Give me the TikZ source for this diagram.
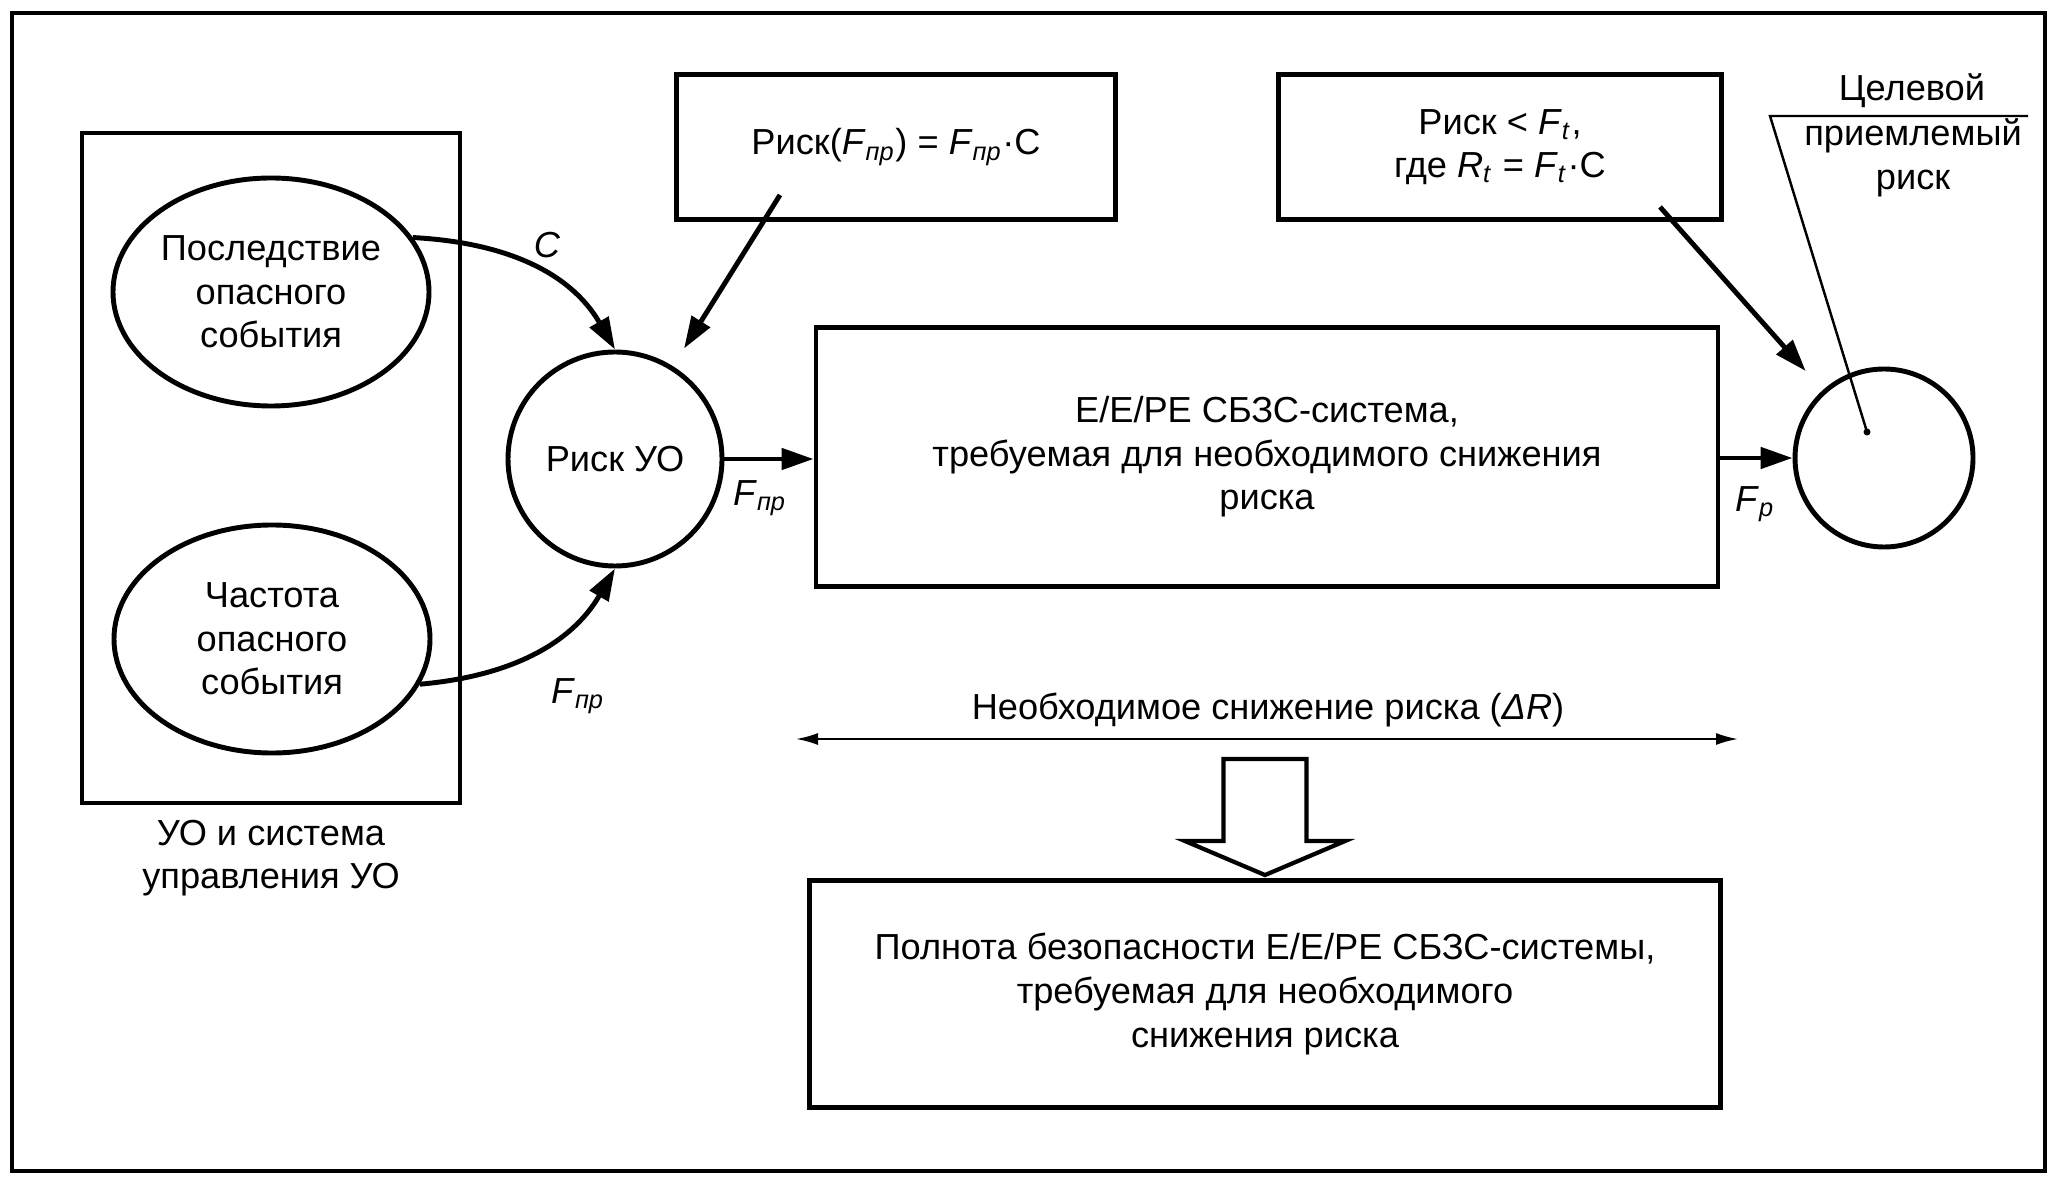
\documentclass[tikz,border=0pt]{standalone}
\usepackage{fontspec}
\setmainfont{Liberation Sans}
\usepackage{tikz}
\usetikzlibrary{shapes.geometric,positioning,arrows.meta,calc}

\newcommand{\Fsub}[1]{\textit{F}\textsubscript{\textit{#1}}}

\begin{document}
\begin{tikzpicture}[line width=1.4pt]
    \fontsize{10.3}{12.4}\selectfont

    % Shapes
    \tikzstyle{box}=[rectangle, draw, align=center, inner sep=0pt]
    \tikzstyle{event}=[ellipse, draw, align=center, minimum width=3.16cm, minimum height=2.28cm, inner sep=0pt]
    \tikzstyle{risk}=[circle, draw, inner sep=0pt]
    \tikzstyle{flow}=[-{Triangle[length=0.32cm,width=0.21cm]}]
    \tikzstyle{lbl}=[inner sep=1pt]

    % Frame
    \useasboundingbox (0,0) rectangle (20.56,11.86);
    \draw (0.12,0.15) rectangle (20.45,11.73);

    % Plant and control system
    \node[box, minimum width=3.78cm, minimum height=6.70cm, label={[align=center]below:УО и система\\управления УО}] at (2.71,7.18) (plantBox) {};
    \node[event] at (2.71,8.94) (conseq) {Последствие\\опасного\\события};
    \node[event] at (2.72,5.47) (freq) {Частота\\опасного\\события};

    % Risk
    \node[risk, minimum size=2.14cm] at (6.15,7.27) (riskUO) {Риск УО};
    \node[box, minimum width=4.39cm, minimum height=1.45cm] at (8.96,10.39) (riskFormula) {Риск(\Fsub{пр}) = \Fsub{пр}·C};
    \node[box, minimum width=4.43cm, minimum height=1.45cm] at (15.00,10.39) (tolFormula) {Риск < \Fsub{t},\\где \textit{R}\textsubscript{\textit{t}} = \Fsub{t}·C};

    % Systems
    \node[box, minimum width=9.02cm, minimum height=2.59cm] at (12.67,7.29) (sisBox) {E/E/PE СБЗС-система,\\требуемая для необходимого снижения\\риска};
    \node[risk, minimum size=1.78cm] at (18.84,7.28) (tolRisk) {};
    \node[box, minimum width=9.11cm, minimum height=2.27cm] at (12.65,1.92) (silBox) {Полнота безопасности E/E/PE СБЗС-системы,\\требуемая для необходимого\\снижения риска};

    % Arrows
    \draw[flow] (conseq.21) to[out=-3,in=120] (riskUO.north);
    \draw[flow] (freq.-17) to[out=5,in=-120] (riskUO.south);
    \draw[flow] (riskUO.east) -- (riskUO.east -| sisBox.west);
    \draw[flow] (sisBox.east |- tolRisk.west) -- (tolRisk.west);
    \draw[flow] ($(riskFormula.south)+(-1.16,0.27)$) -- ($(riskUO.center)!1.19!(riskUO.58)$);
    \draw[flow] ($(tolFormula.south)+(1.60,0.15)$) -- ($(tolRisk.center)!1.28!(tolRisk.132)$);

    % Labels
    \node[lbl] at (5.47,9.41) (labC) {\textit{C}};
    \node[lbl] at (5.78,4.90) (labFreq) {\Fsub{пр}};
    \node[lbl] at (7.60,6.88) (labRisk) {\Fsub{пр}};
    \node[lbl] at (17.55,6.82) (labRes) {\Fsub{p}};

    % Target risk
    \node at (19.12,10.95) (tolTitle) {Целевой};
    \node[align=center] at (19.13,10.28) (tolText) {приемлемый\\риск};
    \coordinate (tolLineEnd) at (20.28,10.70);
    \coordinate (tolCorner) at (17.70,10.70);
    \coordinate (tolDot) at (18.67,7.54);
    \draw[line width=0.7pt] (tolLineEnd) -- (tolCorner) -- (tolDot);
    \fill (tolDot) circle (0.035);

    % Risk reduction
    \coordinate (redLeft) at (7.96,4.47);
    \coordinate (redRight) at (17.38,4.47);
    \draw[{Latex[length=0.22cm,width=0.12cm]}-{Latex[length=0.22cm,width=0.12cm]}, line width=0.6pt] (redLeft) -- (redRight);
    \node at (12.68,4.76) (redText) {Необходимое снижение риска (\textit{ΔR})};
    \draw[line width=1.2pt] ($(silBox.north)+(0,0.03)$) -- ++(-0.80,0.34) -- ++(0.385,0) -- ++(0,0.82) -- ++(0.83,0) -- ++(0,-0.82) -- ++(0.385,0) -- cycle;
\end{tikzpicture}
\end{document}
